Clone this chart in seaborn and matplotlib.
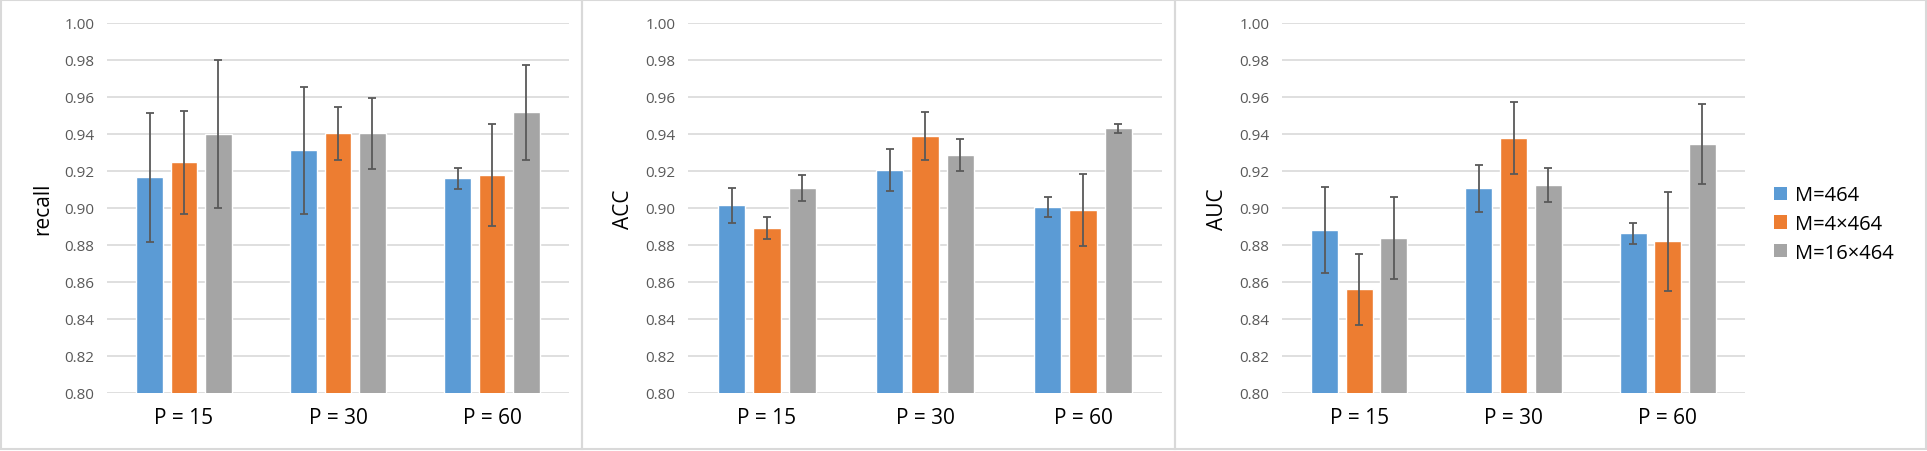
import numpy as np
import pandas as pd
import seaborn as sns
import matplotlib
matplotlib.use("Agg")
import matplotlib.pyplot as plt
from matplotlib.patches import Rectangle, Patch

# ---------------- data ----------------
categories = ["P = 15", "P = 30", "P = 60"]
series = ["M=464", "M=4×464", "M=16×464"]
colors = ["#5B9BD5", "#ED7D31", "#A5A5A5"]
metrics = ["recall", "ACC", "AUC"]

# rows = series (M=464, M=4x464, M=16x464), columns = categories
recall_mean = [[0.9165, 0.9312, 0.9160],
               [0.9247, 0.9404, 0.9177],
               [0.9400, 0.9404, 0.9517]]
recall_err = [[0.0350, 0.0343, 0.0057],
              [0.0278, 0.0143, 0.0276],
              [0.0400, 0.0192, 0.0257]]

acc_mean = [[0.9014, 0.9204, 0.9004],
            [0.8890, 0.9389, 0.8989],
            [0.9106, 0.9286, 0.9431]]
acc_err = [[0.0095, 0.0114, 0.0055],
           [0.0059, 0.0130, 0.0193],
           [0.0070, 0.0088, 0.0024]]

auc_mean = [[0.8881, 0.9106, 0.8863],
            [0.8560, 0.9377, 0.8820],
            [0.8838, 0.9123, 0.9344]]
auc_err = [[0.0235, 0.0125, 0.0055],
           [0.0194, 0.0194, 0.0268],
           [0.0222, 0.0091, 0.0216]]

yticks = [0.80, 0.82, 0.84, 0.86, 0.88, 0.90, 0.92, 0.94, 0.96, 0.98, 1.00]

# ---------------- figure ----------------
sns.set_theme(style="white")
plt.rcParams["font.family"] = ["Open Sans", "DejaVu Sans"]

W, H = 1927, 452
fig = plt.figure(figsize=(W / 100, H / 100), dpi=100)
fig.patch.set_facecolor("white")

def fx(px):
    return px / W

def fy(px):
    return 1 - px / H

# panel borders (pixel coords: x0, x1)
for x0, x1 in [(1, 582), (582, 1175), (1175, 1926)]:
    fig.patches.append(Rectangle((fx(x0), fy(450)), fx(x1) - fx(x0), fy(1) - fy(450),
                                 transform=fig.transFigure, fill=False,
                                 edgecolor="#D9D9D9", linewidth=1.5, zorder=0))

# axes placements in pixels: (left, right)
ax_pos = [(107, 569), (688, 1162), (1282, 1745)]
top_px, bot_px = 24, 394

data_sets = [(recall_mean, recall_err), (acc_mean, acc_err), (auc_mean, auc_err)]

axes = []
for k, (metric, (means, errs)) in enumerate(zip(metrics, data_sets)):
    l, r = ax_pos[k]
    ax = fig.add_axes([fx(l), fy(bot_px), fx(r) - fx(l), fy(top_px) - fy(bot_px)])
    axes.append(ax)
    rows = []
    for si, s in enumerate(series):
        for ci, c in enumerate(categories):
            rows.append({"P": c, "M": s, "value": means[si][ci]})
    df = pd.DataFrame(rows)
    sns.barplot(data=df, x="P", y="value", hue="M", order=categories, hue_order=series,
                palette=colors, width=0.672, gap=0.22, errorbar=None, saturation=1,
                legend=False, ax=ax, zorder=2)
    # error bars placed on the bars drawn by seaborn
    bar_conts = list(ax.containers)
    for si, cont in enumerate(bar_conts):
        xs = [b.get_x() + b.get_width() / 2 for b in cont.patches]
        ax.errorbar(xs, means[si], yerr=errs[si], fmt="none", ecolor="#595959",
                    elinewidth=1.3, capsize=2.8, capthick=1.3, zorder=3)
    ax.set_ylim(0.80, 1.00)
    ax.set_yticks(yticks)
    ax.set_yticklabels([f"{t:.2f}" for t in yticks])
    ax.set_xlim(-0.5, 2.5)
    ax.grid(axis="y", color="#D9D9D9", linewidth=1.2)
    ax.grid(axis="x", visible=False)
    ax.set_axisbelow(True)
    for sp in ax.spines.values():
        sp.set_visible(False)
    ax.tick_params(axis="y", length=0, pad=9, labelsize=11, labelcolor="#595959")
    ax.tick_params(axis="x", length=0, pad=10, labelsize=15, labelcolor="#000000")
    ax.set_xlabel("")
    ax.set_ylabel(metric, fontsize=15, color="#000000", labelpad=8)
    ax.set_facecolor("none")

handles = [Patch(facecolor=c, edgecolor="none") for c in colors]
axes[2].legend(handles, series, loc="center left",
               bbox_to_anchor=(fx(1774), fy(225)), bbox_transform=fig.transFigure,
               frameon=False, fontsize=14.5, handlelength=0.65, handleheight=0.65,
               handletextpad=0.4, labelspacing=0.43, borderpad=0, borderaxespad=0,
               labelcolor="#000000")

fig.savefig("out.png", dpi=100, facecolor="white")
